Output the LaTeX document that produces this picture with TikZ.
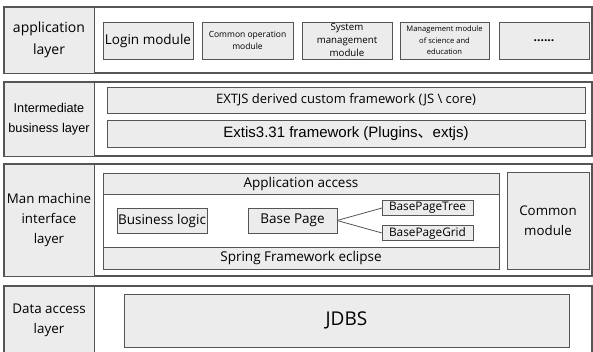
\documentclass[tikz,border=0pt]{standalone}
\usepackage{fontspec}
\setmainfont{Open Sans}
\newfontfamily\arialfont{Liberation Sans}
\newfontfamily\cjkfont{Noto Sans CJK SC}
\definecolor{boxgray}{RGB}{236,236,236}
\definecolor{linegray}{RGB}{85,85,85}
\newcommand{\fs}[2]{\fontsize{#1}{#2}\selectfont}
\tikzset{
  layer/.style={draw=linegray, line width=1.4pt},
  cell/.style 2 args={draw=linegray, fill=boxgray, line width=0.8pt, align=center,
    inner sep=0pt, outer sep=0pt, minimum width=#1pt, minimum height=#2pt},
  conn/.style={draw=linegray, line width=0.8pt}
}

\begin{document}
\begin{tikzpicture}[x=1pt, y=-1pt]
\clip (0,0) rectangle (593,352);
\fill[white] (0,0) rectangle (593,352);

% Application layer
\draw[layer] (4,7) rectangle (592,73);
\node[cell={90}{66}, font=\fs{14}{22}] (applab) at (49,40) {application\\layer};
\node[cell={90}{37}, font=\fs{13.5}{14}] (login) at (148,40.5) {Login module};
\node[cell={91}{37}, font=\fs{8.5}{12}] (commonop) at (247.5,40.5) {Common operation\\module};
\node[cell={90}{37}, font=\fs{9.7}{13}] (sysmgmt) at (347,40.5) {System\\management\\module};
\node[cell={89}{37}, font=\fs{7.6}{11.5}] (scimgmt) at (444.5,40.5) {Management module\\of science and\\education};
\node[cell={90}{37}, font=\fs{12}{14}\bfseries] (more) at (544,40.5) {......};

% Intermediate business layer
\draw[layer] (4,82) rectangle (592,156);
\node[cell={90}{74}, font=\arialfont\fs{12.7}{20}] (midlab) at (49,119) {Intermediate\\business layer};
\node[cell={478}{26}, font=\fs{13}{14}] (extjs) at (346,100) {EXTJS derived custom framework (JS \textbackslash{} core)};
\node[cell={478}{27}, font=\arialfont\fs{15}{16}] (extis) at (346,133.5) {Extis3.31 framework (Plugins{\cjkfont 、}extjs)};

% Man machine interface layer
\draw[layer] (4,164) rectangle (592,276);
\node[cell={90}{112}, font=\fs{13.3}{20}] (mmilab) at (49,220) {Man machine\\interface\\layer};
\draw[conn, fill=white] (103,173) rectangle (499,269);
\node[cell={396}{21}, font=\fs{13.5}{14}] (access) at (301,183.5) {Application access};
\node[cell={396}{22}, font=\fs{13.5}{14}] (spring) at (301,258) {Spring Framework eclipse};
\node[cell={90}{25}, font=\fs{13.5}{14}] (logic) at (162,220.5) {Business logic};
\node[cell={89}{25}, font=\fs{13.5}{14}] (base) at (292.5,220.5) {Base Page};
\node[cell={91}{15}, font=\fs{11.8}{14}] (tree) at (427.5,208) {BasePageTree};
\node[cell={91}{15}, font=\fs{11.8}{14}] (grid) at (427.5,233) {BasePageGrid};
\node[cell={82}{97}, font=\fs{13.3}{20}] (common) at (548,220.5) {Common\\module};
\draw[conn] (base.east) -- (tree.west);
\draw[conn] (base.east) -- (grid.west);

% Data access layer
\draw[layer] (4,286) rectangle (592,356);
\node[cell={90}{68}, font=\fs{13.4}{20}] (datalab) at (49,320) {Data access\\layer};
\node[cell={445}{53}, font=\fs{19}{20}] (jdbs) at (346.5,320.5) {JDBS};

\end{tikzpicture}
\end{document}
